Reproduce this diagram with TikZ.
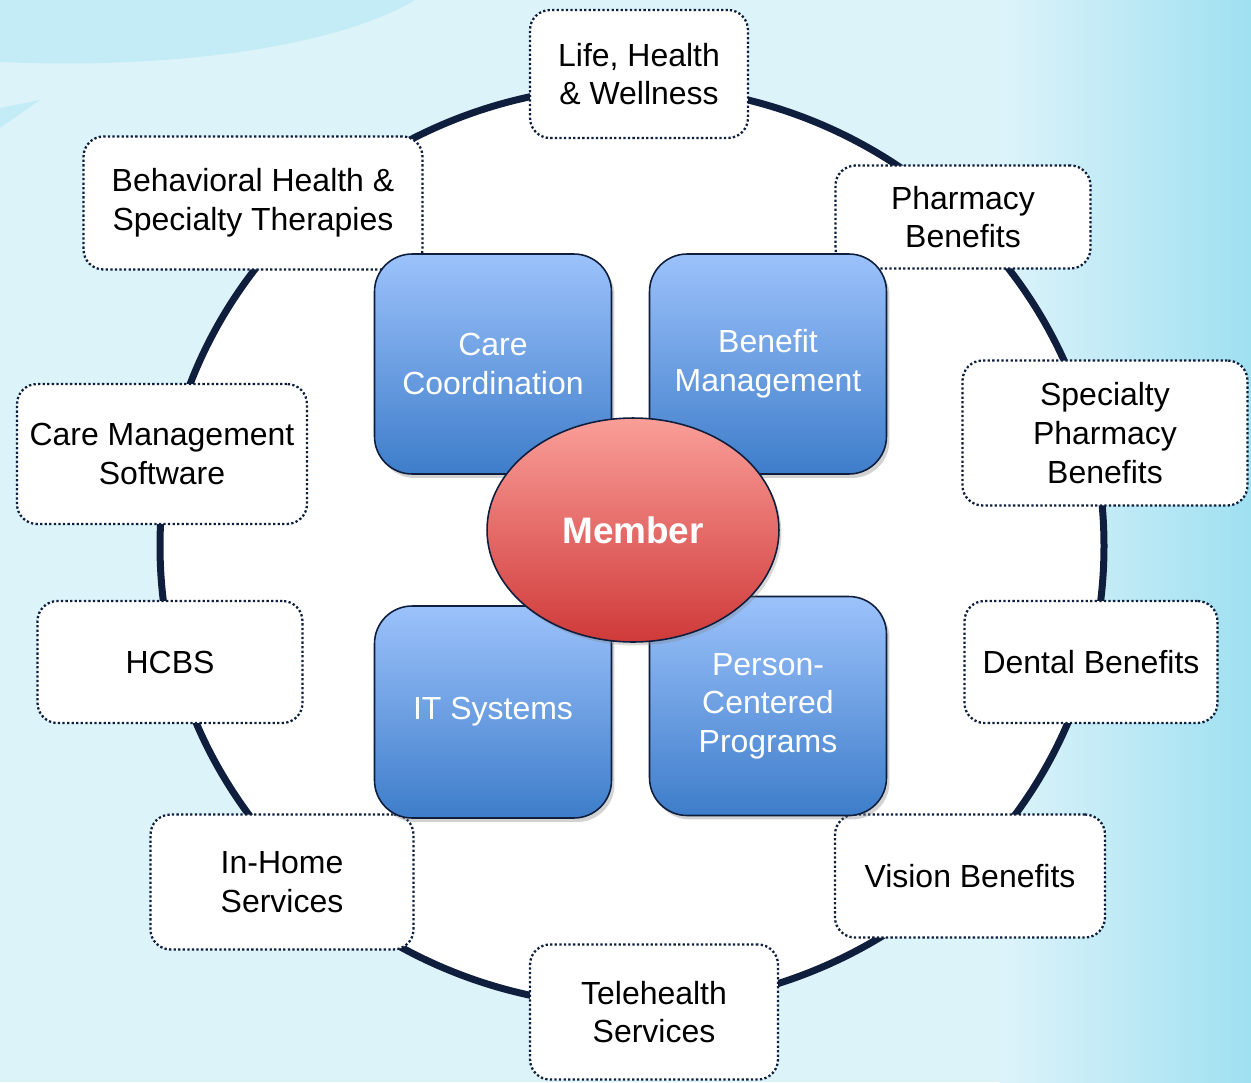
\documentclass[tikz,border=0pt]{standalone}
\usepackage{fontspec}
\setmainfont{Liberation Sans}
\usetikzlibrary{shadows,shapes.geometric}

\definecolor{navy}{HTML}{0E1E3C}
\definecolor{bgsky}{HTML}{DDF3FA}
\definecolor{bgdeep}{HTML}{9FE0F1}
\definecolor{bgband}{HTML}{C3ECF6}
\definecolor{pillartop}{HTML}{9CC2FB}
\definecolor{pillarbot}{HTML}{3E7DCA}
\definecolor{memtop}{HTML}{FA9E98}
\definecolor{membot}{HTML}{CF3A3A}

\begin{document}
\begin{tikzpicture}[x=0.02cm, y=-0.02cm,
    service/.style={draw=navy, line width=1.3pt, dash pattern=on 1.3pt off 1.3pt,
      fill=white, rounded corners=0.4cm, align=center, inner sep=0pt,
      font=\fontsize{18.2}{22}\selectfont},
    pillar/.style={draw=navy, line width=0.9pt, rounded corners=0.75cm,
      top color=pillartop, bottom color=pillarbot,
      drop shadow={shadow xshift=0.06cm, shadow yshift=-0.08cm, opacity=0.35},
      text=white, align=center, inner sep=0pt,
      minimum width=4.74cm, font=\fontsize{18.2}{22}\selectfont},
    member/.style={ellipse, draw=navy, line width=0.9pt,
      top color=memtop, bottom color=membot,
      drop shadow={shadow xshift=0.05cm, shadow yshift=-0.07cm, opacity=0.3},
      text=white, inner sep=0pt, minimum width=5.84cm, minimum height=4.48cm,
      font=\fontsize{21}{24}\selectfont\bfseries}]

  % backdrop
  \useasboundingbox (0,0) rectangle (1251,1082);
  \fill[bgsky] (0,0) rectangle (1251,1082);
  \shade[left color=bgsky, right color=bgdeep] (1000,0) rectangle (1251,1082);
  \fill[bgband] (0,0) -- (0,62) .. controls (180,70) and (340,45) .. (415,0) -- cycle;
  \fill[bgband] (0,108) -- (40,100) -- (0,128) -- cycle;

  % ring
  \draw[navy, line width=0.14cm, fill=white] (632,546) ellipse [x radius=472, y radius=460];

  % services round the ring
  \node[service, minimum width=4.36cm, minimum height=2.56cm] (life) at (639,74) {Life, Health\\\& Wellness};
  \node[service, minimum width=5.10cm, minimum height=2.06cm] (pharm) at (963,217) {Pharmacy\\Benefits};
  \node[service, minimum width=5.70cm, minimum height=2.90cm] (spec) at (1105,433) {Specialty\\Pharmacy\\Benefits};
  \node[service, minimum width=5.06cm, minimum height=2.44cm] (dental) at (1091,662) {Dental Benefits};
  \node[service, minimum width=5.40cm, minimum height=2.46cm] (vision) at (970,876) {Vision Benefits};
  \node[service, minimum width=4.96cm, minimum height=2.70cm] (tele) at (654,1012) {Telehealth\\Services};
  \node[service, minimum width=5.26cm, minimum height=2.70cm] (home) at (282,882) {In-Home\\Services};
  \node[service, minimum width=5.30cm, minimum height=2.44cm] (hcbs) at (170,662) {HCBS};
  \node[service, minimum width=5.80cm, minimum height=2.80cm] (cms) at (162,454) {Care Management\\Software};
  \node[service, minimum width=6.78cm, minimum height=2.66cm] (bh) at (253,203) {Behavioral Health \&\\Specialty Therapies};

  % pillars
  \node[pillar, minimum height=4.40cm] (care) at (493,364) {Care\\Coordination};
  \node[pillar, minimum height=4.40cm] (benefit) at (768,364) {Benefit\\Management};
  \node[pillar, minimum height=4.24cm] (it) at (493,712) {IT Systems};
  \node[pillar, minimum height=4.38cm] (pcp) at (768,706) {Person-\\Centered\\Programs};

  % centre
  \node[member] (mem) at (633,530) {Member};
\end{tikzpicture}
\end{document}
